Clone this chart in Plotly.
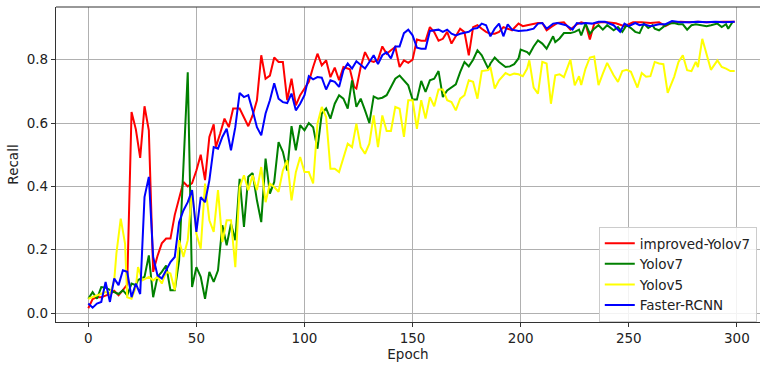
import plotly.graph_objects as go

# ---------------- data ----------------
red_epoch = [0, 2, 4, 6, 8, 10, 12, 14, 16, 18, 20, 22, 24, 26, 28, 30, 32, 34, 36, 38,
             40, 42, 44, 46, 48, 50, 52, 54, 56, 58, 59, 61, 63, 65, 67, 70, 72, 74, 76, 78,
             80, 82, 84, 86, 88, 90, 92, 94, 96, 98, 100, 102, 104, 106, 108, 110, 112, 114, 116, 118,
             121, 123, 124, 126, 128, 130, 132, 134, 136, 138, 140, 142, 144, 146, 148, 150, 152, 154, 156, 158,
             160, 162, 164, 166, 168, 170, 172, 174, 176, 178, 180, 182, 184, 186, 188, 190, 192, 194, 196, 199,
             201, 203, 206, 208, 210, 212, 214, 217, 220, 223, 226, 228, 230, 232, 234, 237, 240, 244, 248, 252,
             256, 260, 264, 267, 270, 274, 278, 282, 286, 290, 294, 299]
red_recall = [0.015, 0.044, 0.05, 0.05, 0.055, 0.06, 0.07, 0.056, 0.072, 0.09, 0.635, 0.58, 0.49, 0.653, 0.577, 0.13, 0.18, 0.22, 0.235, 0.235,
              0.31, 0.366, 0.414, 0.40, 0.41, 0.45, 0.50, 0.42, 0.556, 0.596, 0.524, 0.567, 0.614, 0.587, 0.646, 0.646, 0.62, 0.59, 0.624, 0.672,
              0.814, 0.74, 0.75, 0.807, 0.793, 0.793, 0.672, 0.74, 0.656, 0.688, 0.709, 0.73, 0.777, 0.819, 0.782, 0.798, 0.745, 0.775, 0.735, 0.777,
              0.77, 0.714, 0.709, 0.777, 0.824, 0.798, 0.793, 0.80, 0.842, 0.819, 0.83, 0.84, 0.777, 0.798, 0.79, 0.80, 0.864, 0.86, 0.86, 0.903,
              0.887, 0.86, 0.866, 0.888, 0.851, 0.877, 0.898, 0.887, 0.814, 0.903, 0.909, 0.898, 0.888, 0.882, 0.882, 0.888, 0.903, 0.898, 0.893, 0.914,
              0.906, 0.909, 0.914, 0.916, 0.916, 0.893, 0.903, 0.916, 0.918, 0.895, 0.912, 0.918, 0.914, 0.864, 0.914, 0.918, 0.918, 0.915, 0.906, 0.918,
              0.918, 0.916, 0.918, 0.906, 0.918, 0.92, 0.918, 0.92, 0.918, 0.92, 0.92, 0.92]

green_epoch = [0, 2, 4, 6, 8, 10, 12, 14, 16, 18, 20, 22, 23, 26, 28, 30, 32, 34, 36, 38,
               40, 42, 44, 46, 48, 50, 52, 54, 56, 58, 60, 62, 64, 66, 68, 70, 72, 74, 76, 78,
               80, 82, 84, 86, 88, 90, 92, 94, 96, 98, 100, 102, 104, 106, 108, 110, 112, 114, 116, 118,
               120, 122, 124, 126, 128, 130, 132, 134, 136, 138, 140, 142, 144, 146, 148, 150, 152, 154, 156, 158,
               160, 162, 164, 166, 168, 170, 172, 174, 176, 178, 180, 182, 185, 186, 188, 190, 193, 195, 197, 199,
               200, 203, 204, 206, 208, 210, 212, 215, 216, 218, 220, 223, 225, 227, 228, 230, 232, 234, 236, 238,
               240, 243, 245, 247, 249, 251, 253, 255, 257, 259, 261, 262, 264, 267, 269, 271, 273, 275, 277, 279,
               281, 284, 286, 288, 291, 293, 295, 296, 298]
green_recall = [0.045, 0.066, 0.045, 0.082, 0.08, 0.072, 0.066, 0.06, 0.072, 0.056, 0.093, 0.088, 0.104, 0.114, 0.182, 0.05, 0.114, 0.13, 0.15, 0.072,
                0.072, 0.166, 0.46, 0.76, 0.082, 0.145, 0.114, 0.045, 0.13, 0.098, 0.135, 0.277, 0.214, 0.282, 0.23, 0.424, 0.272, 0.43, 0.442, 0.356,
                0.287, 0.488, 0.377, 0.414, 0.54, 0.509, 0.45, 0.59, 0.514, 0.593, 0.577, 0.60, 0.587, 0.519, 0.63, 0.646, 0.614, 0.661, 0.688, 0.677,
                0.646, 0.735, 0.651, 0.677, 0.64, 0.60, 0.684, 0.677, 0.68, 0.688, 0.714, 0.74, 0.75, 0.735, 0.719, 0.674, 0.674, 0.733, 0.698, 0.735,
                0.74, 0.764, 0.682, 0.703, 0.714, 0.722, 0.761, 0.793, 0.779, 0.80, 0.83, 0.814, 0.772, 0.788, 0.807, 0.793, 0.777, 0.779, 0.786, 0.804,
                0.832, 0.824, 0.817, 0.842, 0.861, 0.851, 0.835, 0.874, 0.856, 0.867, 0.884, 0.884, 0.888, 0.895, 0.877, 0.914, 0.882, 0.898, 0.909, 0.895,
                0.909, 0.893, 0.903, 0.888, 0.909, 0.90, 0.888, 0.884, 0.914, 0.90, 0.909, 0.898, 0.893, 0.909, 0.914, 0.916, 0.912, 0.912, 0.895, 0.909,
                0.912, 0.909, 0.906, 0.909, 0.914, 0.903, 0.912, 0.898, 0.919]

yellow_epoch = [0, 2, 4, 6, 8, 10, 12, 13, 15, 17, 18, 20, 22, 23, 25, 28, 30, 32, 34, 36,
                38, 40, 42, 44, 46, 48, 50, 52, 54, 56, 58, 60, 62, 64, 66, 68, 70, 72, 74, 76,
                78, 80, 82, 84, 86, 88, 90, 92, 94, 96, 98, 100, 102, 104, 106, 108, 110, 112, 114, 116,
                118, 120, 122, 124, 126, 128, 130, 132, 134, 136, 138, 140, 142, 144, 146, 148, 150, 152, 154, 156,
                158, 160, 162, 164, 166, 168, 170, 172, 174, 176, 178, 180, 182, 185, 186, 188, 190, 193, 195, 197,
                199, 201, 203, 204, 206, 208, 210, 212, 214, 216, 218, 220, 223, 225, 227, 228, 230, 232, 234, 236,
                238, 240, 243, 245, 247, 249, 251, 254, 256, 258, 260, 262, 264, 266, 268, 271, 273, 275, 277, 279,
                281, 282, 284, 286, 288, 291, 293, 295, 297, 299]
yellow_recall = [0.045, 0.05, 0.055, 0.06, 0.066, 0.06, 0.103, 0.188, 0.298, 0.219, 0.05, 0.045, 0.082, 0.145, 0.103, 0.114, 0.103, 0.114, 0.093, 0.13,
                 0.125, 0.072, 0.23, 0.177, 0.23, 0.388, 0.25, 0.203, 0.409, 0.293, 0.256, 0.388, 0.224, 0.293, 0.293, 0.145, 0.398, 0.435, 0.388, 0.435,
                 0.388, 0.461, 0.35, 0.409, 0.398, 0.383, 0.45, 0.482, 0.356, 0.445, 0.493, 0.445, 0.445, 0.409, 0.598, 0.651, 0.619, 0.456, 0.456, 0.445,
                 0.493, 0.535, 0.524, 0.598, 0.524, 0.503, 0.535, 0.624, 0.524, 0.624, 0.575, 0.575, 0.651, 0.645, 0.556, 0.672, 0.672, 0.582, 0.672, 0.614,
                 0.682, 0.653, 0.706, 0.706, 0.672, 0.666, 0.64, 0.677, 0.688, 0.735, 0.73, 0.677, 0.764, 0.767, 0.777, 0.709, 0.735, 0.758, 0.751, 0.756,
                 0.754, 0.748, 0.772, 0.798, 0.712, 0.693, 0.793, 0.788, 0.661, 0.751, 0.754, 0.745, 0.80, 0.719, 0.748, 0.72, 0.772, 0.807, 0.81, 0.72,
                 0.756, 0.79, 0.751, 0.73, 0.764, 0.768, 0.762, 0.712, 0.758, 0.746, 0.748, 0.793, 0.788, 0.786, 0.695, 0.746, 0.793, 0.814, 0.767, 0.764,
                 0.793, 0.777, 0.866, 0.814, 0.768, 0.798, 0.777, 0.772, 0.764, 0.764]

blue_epoch = [0, 2, 4, 6, 8, 10, 12, 14, 16, 18, 20, 22, 24, 26, 28, 30, 32, 34, 36, 38,
              40, 42, 44, 46, 48, 50, 52, 54, 56, 58, 60, 62, 64, 66, 68, 70, 72, 74, 76, 78,
              80, 82, 84, 86, 88, 90, 92, 94, 96, 98, 100, 102, 104, 106, 108, 110, 112, 114, 116, 118,
              120, 122, 124, 126, 128, 130, 132, 134, 136, 138, 140, 142, 144, 146, 148, 150, 152, 154, 156, 158,
              160, 162, 164, 166, 168, 170, 172, 174, 176, 178, 180, 182, 184, 186, 188, 190, 192, 194, 196, 199,
              201, 203, 206, 208, 210, 212, 215, 217, 221, 224, 226, 228, 230, 233, 236, 239, 243, 246, 248, 250,
              253, 255, 257, 260, 264, 267, 270, 274, 278, 282, 286, 290, 294, 299]
blue_recall = [0.03, 0.017, 0.03, 0.035, 0.098, 0.035, 0.109, 0.088, 0.135, 0.13, 0.05, 0.093, 0.06, 0.366, 0.43, 0.177, 0.119, 0.109, 0.135, 0.161,
               0.177, 0.287, 0.324, 0.35, 0.388, 0.256, 0.366, 0.35, 0.419, 0.524, 0.519, 0.556, 0.582, 0.514, 0.587, 0.695, 0.682, 0.688, 0.64, 0.587,
               0.561, 0.63, 0.672, 0.726, 0.677, 0.666, 0.663, 0.693, 0.64, 0.661, 0.688, 0.748, 0.738, 0.745, 0.743, 0.706, 0.735, 0.73, 0.714, 0.767,
               0.788, 0.772, 0.795, 0.782, 0.772, 0.793, 0.814, 0.786, 0.814, 0.824, 0.804, 0.842, 0.842, 0.884, 0.895, 0.877, 0.838, 0.835, 0.835, 0.891,
               0.893, 0.895, 0.888, 0.895, 0.882, 0.877, 0.882, 0.884, 0.888, 0.898, 0.90, 0.914, 0.909, 0.874, 0.898, 0.914, 0.874, 0.912, 0.895, 0.891,
               0.891, 0.893, 0.898, 0.914, 0.916, 0.898, 0.914, 0.916, 0.909, 0.895, 0.916, 0.914, 0.916, 0.914, 0.92, 0.92, 0.909, 0.888, 0.914, 0.906,
               0.916, 0.909, 0.912, 0.906, 0.912, 0.912, 0.922, 0.918, 0.918, 0.92, 0.918, 0.92, 0.918, 0.92]

series_names = ["improved-Yolov7", "Yolov7", "Yolov5", "Faster-RCNN"]
series_colors = ["#ff0000", "#008000", "#ffff00", "#0000ff"]
x_ticks = [0, 50, 100, 150, 200, 250, 300]
y_ticks = [0.0, 0.2, 0.4, 0.6, 0.8]

# ---------------- figure ----------------
FONT = "DejaVu Sans, Verdana, sans-serif"
FS = 13.5
fig = go.Figure()
for xs, ys, name, color in zip([red_epoch, green_epoch, yellow_epoch, blue_epoch],
                               [red_recall, green_recall, yellow_recall, blue_recall],
                               series_names, series_colors):
    fig.add_trace(go.Scatter(x=xs, y=ys, mode="lines", name=name,
                             line=dict(color=color, width=2)))

fig.update_layout(
    width=760, height=369,
    margin=dict(l=56, r=0, t=7, b=47, autoexpand=False),
    paper_bgcolor="white", plot_bgcolor="white",
    font=dict(family=FONT, size=FS, color="#222222"),
    showlegend=True,
    legend=dict(x=0.771, y=0.0, xanchor="left", yanchor="bottom",
                bgcolor="rgba(255,255,255,0.85)", bordercolor="#cccccc", borderwidth=1,
                font=dict(family=FONT, size=FS, color="#222222"),
                tracegroupgap=0, itemwidth=30, entrywidth=120, entrywidthmode="pixels"),
)
fig.update_xaxes(range=[-14.94, 310.7], tickvals=x_ticks, ticks="outside", ticklen=4,
                 tickcolor="#333333", showline=True, linecolor="#333333", linewidth=1.2,
                 showgrid=True, gridcolor="#b0b0b0", gridwidth=1, zeroline=False, automargin=False,
                 title=dict(text="Epoch", standoff=4, font=dict(size=FS)),
                 tickfont=dict(size=FS))
fig.update_yaxes(range=[-0.0284, 0.9665], tickvals=y_ticks, tickformat=".1f", ticks="outside",
                 ticklen=4, tickcolor="#333333", showline=True, linecolor="#333333", linewidth=1.2,
                 showgrid=True, gridcolor="#b0b0b0", gridwidth=1, zeroline=False, automargin=False,
                 title=dict(text="Recall", standoff=4, font=dict(size=FS)),
                 tickfont=dict(size=FS))
# top spine (the right side of the reference is cropped, so no right spine)
fig.add_shape(type="line", xref="paper", yref="paper", x0=0, x1=1, y0=1, y1=1,
              line=dict(color="#333333", width=1.2))

fig.write_html("out.html", config={"displayModeBar": False},
               post_script="document.body.style.margin='0';")
